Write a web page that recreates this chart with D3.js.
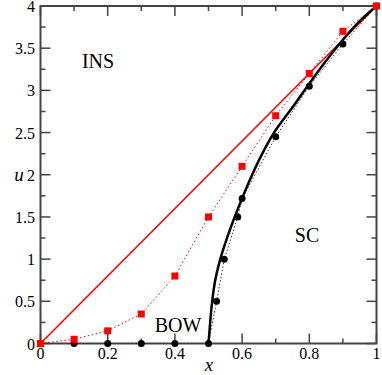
<!DOCTYPE html>
<html lang="en">
<head>
<meta charset="utf-8" />
<script src="https://cdn.jsdelivr.net/npm/d3@7"></script>
<style>
  body { margin: 0; background: #fff; }
</style>
</head>
<body>
<div id="chart"></div>
<script>
// red squares (dotted red line)
var sqX = [0, 0.1, 0.2, 0.3, 0.4, 0.5, 0.6, 0.7, 0.8, 0.9, 1];
var sqU = [0, 0.05, 0.15, 0.35, 0.8, 1.5, 2.1, 2.7, 3.2, 3.7, 4];
// black circles (dotted black line)
var dotX = [0, 0.1, 0.2, 0.3, 0.4, 0.5, 0.524, 0.547, 0.587, 0.6, 0.7, 0.8, 0.9, 1];
var dotU = [0, 0, 0, 0, 0, 0, 0.5, 1.0, 1.5, 1.72, 2.45, 3.05, 3.55, 4];
// solid black boundary curve
var curveX = [0.5, 0.502, 0.505, 0.511, 0.52, 0.535, 0.555, 0.578, 0.6, 0.63, 0.66, 0.695, 0.75, 0.8, 0.85, 0.9, 0.95, 1];
var curveU = [0, 0.1, 0.25, 0.5, 0.75, 1.0, 1.25, 1.5, 1.72, 2.0, 2.25, 2.5, 2.8, 3.08, 3.35, 3.6, 3.82, 4];
// straight red line
var lineX = [0, 1];
var lineU = [0, 4];

var xTicks = [0, 0.2, 0.4, 0.6, 0.8, 1];
var xMinor = [0.1, 0.3, 0.5, 0.7, 0.9];
var uTicks = [0, 0.5, 1, 1.5, 2, 2.5, 3, 3.5, 4];
var uMinor = [0.25, 0.75, 1.25, 1.75, 2.25, 2.75, 3.25, 3.75];

var W = 382, H = 375;
var pLeft = 40.5, pRight = 376.5, pTop = 6, pBottom = 343.5;
var serif = "Liberation Serif";

var svg = d3.select("#chart").append("svg").attr("width", W).attr("height", H);

var x = d3.scaleLinear().domain([0, 1]).range([pLeft, pRight]);
var y = d3.scaleLinear().domain([0, 4]).range([pBottom, pTop]);

function pts(xs, us) { return xs.map(function(v, i) { return [v, us[i]]; }); }

var line = d3.line().x(function(d) { return x(d[0]); }).y(function(d) { return y(d[1]); });

// frame ticks, inward on all sides
var axisCol = "#444";
function tickSet(vals, len, horiz) {
  vals.forEach(function(v) {
    if (horiz) {
      svg.append("line").attr("x1", x(v)).attr("x2", x(v)).attr("y1", pBottom).attr("y2", pBottom - len)
        .attr("stroke", axisCol).attr("stroke-width", 1.5);
      svg.append("line").attr("x1", x(v)).attr("x2", x(v)).attr("y1", pTop).attr("y2", pTop + len)
        .attr("stroke", axisCol).attr("stroke-width", 1.5);
    } else {
      svg.append("line").attr("x1", pLeft).attr("x2", pLeft + len).attr("y1", y(v)).attr("y2", y(v))
        .attr("stroke", axisCol).attr("stroke-width", 1.5);
      svg.append("line").attr("x1", pRight).attr("x2", pRight - len).attr("y1", y(v)).attr("y2", y(v))
        .attr("stroke", axisCol).attr("stroke-width", 1.5);
    }
  });
}
tickSet(xTicks, 10, true);
tickSet(xMinor, 5, true);
tickSet(uTicks, 10, false);
tickSet(uMinor, 5, false);

svg.append("rect").attr("x", pLeft).attr("y", pTop).attr("width", pRight - pLeft).attr("height", pBottom - pTop)
  .attr("fill", "none").attr("stroke", axisCol).attr("stroke-width", 2);

// tick labels
svg.selectAll(".xl").data(xTicks).enter().append("text")
  .attr("font-family", serif)
  .attr("x", function(d) { return x(d); }).attr("y", 359)
  .attr("text-anchor", "middle").attr("font-size", 16)
  .text(function(d) { return d3.format("")(d); });
svg.selectAll(".yl").data(uTicks).enter().append("text")
  .attr("font-family", serif)
  .attr("x", 35).attr("y", function(d) { return y(d) + 6; })
  .attr("text-anchor", "end").attr("font-size", 16)
  .text(function(d) { return d3.format("")(d); });

// axis titles
svg.append("text").attr("font-family", serif).attr("x", 209).attr("y", 371).attr("text-anchor", "middle")
  .attr("font-size", 19).attr("font-style", "italic").text("x");
svg.append("text").attr("font-family", serif).attr("x", 19).attr("y", 181).attr("text-anchor", "middle")
  .attr("font-size", 19).attr("font-style", "italic").text("u");

// region labels
function region(tx, ty, s) {
  svg.append("text").attr("font-family", serif).attr("x", tx).attr("y", ty)
    .attr("text-anchor", "middle").attr("font-size", 20).text(s);
}
region(98, 68, "INS");
region(307, 242, "SC");
region(178, 332, "BOW");

// series
svg.append("path").datum(pts(lineX, lineU)).attr("d", line)
  .attr("fill", "none").attr("stroke", "#ff0000").attr("stroke-width", 1.6);

svg.append("path").datum(pts(sqX, sqU)).attr("d", line)
  .attr("fill", "none").attr("stroke", "#ff0000").attr("stroke-width", 1).attr("stroke-dasharray", "1.5,2.5");

svg.append("path").datum(pts(dotX, dotU)).attr("d", line)
  .attr("fill", "none").attr("stroke", "#333").attr("stroke-width", 1).attr("stroke-dasharray", "1.5,2");

svg.append("path").datum(pts(curveX, curveU)).attr("d", line.curve(d3.curveCatmullRom))
  .attr("fill", "none").attr("stroke", "#000").attr("stroke-width", 2.5);

svg.selectAll(".dot").data(pts(dotX, dotU)).enter().append("circle")
  .attr("cx", function(d) { return x(d[0]); }).attr("cy", function(d) { return y(d[1]); })
  .attr("r", 3.5).attr("fill", "#000");

svg.selectAll(".sq").data(pts(sqX, sqU)).enter().append("rect")
  .attr("x", function(d) { return x(d[0]) - 3.5; }).attr("y", function(d) { return y(d[1]) - 3.5; })
  .attr("width", 7).attr("height", 7).attr("fill", "#ff0000");
</script>
</body>
</html>
